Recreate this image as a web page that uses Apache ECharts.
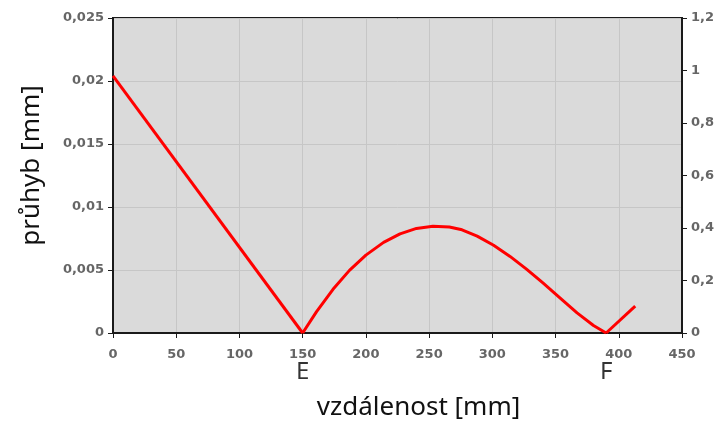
<!DOCTYPE html>
<html>
<head>
<meta charset="utf-8">
<script src="https://cdn.jsdelivr.net/npm/echarts@6/dist/echarts.min.js"></script>
<style>
  html, body { margin: 0; padding: 0; background: #fff; }
  #chart { width: 723px; height: 432px; }
</style>
</head>
<body>
<div id="chart"></div>
<script>
// values: x in mm, deflection in mm
var straightPart = [[0, 0.0204], [150, 0]];
var curvePart = [[150, 0], [161, 0.0017], [174, 0.00347], [187, 0.00497], [200, 0.00618],
  [214, 0.00719], [227, 0.00787], [240, 0.0083], [253, 0.00848], [266, 0.00841],
  [276, 0.00819], [288, 0.00769], [301, 0.00696], [314, 0.00608], [327, 0.00507],
  [340, 0.00397], [353, 0.00283], [367, 0.0016], [380, 0.0006], [390, 0]];
var endPart = [[390, 0], [413, 0.00214]];
var pointLabels = [[150, 0, 'E'], [390, 0, 'F']];

var lineColor = '#ff0000';
var tickFont = { color: '#666', fontFamily: 'DejaVu Sans', fontSize: 13, fontWeight: 'bold' };

function comma(v) {
  return String(+v.toFixed(4)).replace('.', ',');
}

var chart = echarts.init(document.getElementById('chart'));

function lineSeries(data) {
  return {
    type: 'line',
    data: data,
    showSymbol: false,
    lineStyle: { color: lineColor, width: 3, join: 'round' },
    animation: false
  };
}

chart.setOption({
  grid: {
    left: 113, right: 41, top: 18, bottom: 99,
    show: true,
    backgroundColor: '#dadada',
    borderColor: '#1a1a1a',
    borderWidth: 2
  },
  xAxis: {
    type: 'value',
    min: 0, max: 450, interval: 50,
    name: 'vzdálenost [mm]',
    nameLocation: 'middle',
    nameGap: 62,
    nameTextStyle: { fontFamily: 'Noto Sans', fontSize: 26, color: '#111', padding: [0, 0, 0, 42] },
    axisLine: { lineStyle: { color: '#1a1a1a', width: 2 } },
    axisTick: { show: true, length: 5, lineStyle: { color: '#1a1a1a' } },
    axisLabel: Object.assign({ margin: 15 }, tickFont),
    splitLine: { lineStyle: { color: '#c6c6c6', width: 1 } }
  },
  yAxis: [{
    type: 'value',
    min: 0, max: 0.025, interval: 0.005,
    name: 'průhyb [mm]',
    nameLocation: 'middle',
    nameGap: 68,
    nameTextStyle: { fontFamily: 'Noto Sans', fontSize: 26, color: '#111', padding: [0, 0, 0, 20] },
    axisLine: { show: true, lineStyle: { color: '#1a1a1a', width: 2 } },
    axisTick: { show: true, length: 5, lineStyle: { color: '#1a1a1a' } },
    axisLabel: Object.assign({ margin: 9, formatter: comma }, tickFont),
    splitLine: { lineStyle: { color: '#c6c6c6', width: 1 } }
  }, {
    type: 'value',
    position: 'right',
    min: 0, max: 1.2, interval: 0.2,
    axisLine: { show: true, lineStyle: { color: '#1a1a1a', width: 2 } },
    axisTick: { show: true, length: 5, lineStyle: { color: '#1a1a1a' } },
    axisLabel: Object.assign({ margin: 9, formatter: comma }, tickFont),
    splitLine: { show: false }
  }],
  series: [
    lineSeries(straightPart),
    lineSeries(curvePart),
    lineSeries(endPart),
    {
      type: 'scatter',
      data: pointLabels,
      symbolSize: 0,
      silent: true,
      animation: false,
      label: {
        show: true,
        position: 'bottom',
        distance: 27,
        formatter: function (p) { return p.data[2]; },
        fontFamily: 'Noto Sans',
        fontSize: 24,
        color: '#000'
      }
    }
  ]
});
</script>
</body>
</html>
